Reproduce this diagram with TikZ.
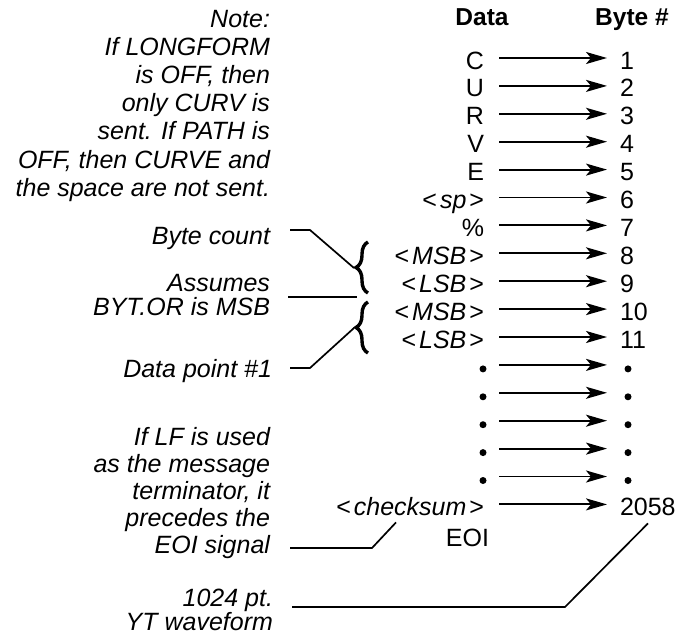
\documentclass[tikz,border=0pt]{standalone}
\usepackage{fontspec}
\setmainfont{Liberation Sans}
\usetikzlibrary{arrows.meta,decorations.pathreplacing}
\newcommand\ltsym{{\upshape<}\kern3pt}
\newcommand\gtsym{\kern3pt{\upshape>}}
\newcommand\topstrut{\rule{0pt}{20pt}}
\begin{document}
\begin{tikzpicture}[x=1pt,y=-1pt,
  every node/.style={inner sep=0pt, outer sep=0pt},
  txt/.style={font=\fontsize{25}{28}\selectfont},
  dat/.style={txt, anchor=base east},
  num/.style={txt, anchor=base west},
  hdr/.style={font=\fontsize{24.5}{28}\selectfont\bfseries, anchor=base},
  notes/.style={align=right, anchor=north east},
  note1/.style={font=\fontsize{25}{28}\selectfont\itshape, anchor=base east},
  arr/.style={line width=1.9pt, -{Stealth[length=21pt,width=12pt,inset=5pt]}},
  lead/.style={line width=1.7pt},
  brc/.style={decorate, decoration={brace, amplitude=12pt, aspect=0.5}, line width=3.4pt},
  dotn/.style={circle, fill, minimum size=7pt}
]
\useasboundingbox (0,0) rectangle (683,637);

% headers
\node[hdr] (hdata) at (482,25) {Data};
\node[hdr] (hbyte) at (632,25) {Byte \#};

% data column
\node[dat] (d1) at (484,69) {C};
\node[dat] (d2) at (484,96.9) {U};
\node[dat] (d3) at (484,124.8) {R};
\node[dat] (d4) at (484,152.7) {V};
\node[dat] (d5) at (484,180.6) {E};
\node[dat] (d6) at (484,208.5) {\ltsym\textit{sp}\gtsym};
\node[dat] (d7) at (484,236.4) {\%};
\node[dat] (d8) at (484,264.3) {\ltsym\textit{MSB}\gtsym};
\node[dat] (d9) at (484,292.2) {\ltsym\textit{LSB}\gtsym};
\node[dat] (d10) at (484,320.1) {\ltsym\textit{MSB}\gtsym};
\node[dat] (d11) at (484,348) {\ltsym\textit{LSB}\gtsym};
\node[dotn] (d12) at (483,368.9) {};
\node[dotn] (d13) at (483,396.8) {};
\node[dotn] (d14) at (483,424.7) {};
\node[dotn] (d15) at (483,452.6) {};
\node[dotn] (d16) at (483,480.5) {};
\node[dat] (d17) at (484,515.4) {\ltsym\textit{checksum}\gtsym};
\node[dat] (eoi) at (489,546) {EOI};

% byte numbers
\node[num] (b1) at (620,69) {1};
\node[num] (b2) at (620,96.9) {2};
\node[num] (b3) at (620,124.8) {3};
\node[num] (b4) at (620,152.7) {4};
\node[num] (b5) at (620,180.6) {5};
\node[num] (b6) at (620,208.5) {6};
\node[num] (b7) at (620,236.4) {7};
\node[num] (b8) at (620,264.3) {8};
\node[num] (b9) at (620,292.2) {9};
\node[num] (b10) at (620,320.1) {10};
\node[num] (b11) at (620,348) {11};
\node[dotn] (b12) at (628,368.9) {};
\node[dotn] (b13) at (628,396.8) {};
\node[dotn] (b14) at (628,424.7) {};
\node[dotn] (b15) at (628,452.6) {};
\node[dotn] (b16) at (628,480.5) {};
\node[num] (b17) at (620,515.4) {2058};

% arrows
\foreach \n in {1,...,11,17}
  \draw[arr] ([shift={(15,-11)}]d\n.base east) -- ([shift={(-13,-11)}]b\n.base west);
\foreach \n in {12,...,16}
  \draw[arr] ([shift={(16,-4)}]d\n.center) -- ([shift={(-21,-4)}]b\n.center);

% braces
\draw[brc] (368,293) -- (368,242);
\draw[brc] (368,353) -- (368,302);
\coordinate (tipA) at (354,268);
\coordinate (tipB) at (354,328);
\coordinate (gap) at (357,297);

% annotations
\node[notes, font=\fontsize{25}{28.2}\selectfont\itshape] (note) at (270,7)
  {\topstrut Note:\\ If LONGFORM\\ is OFF, then\\ only CURV is\\ sent. If PATH is\\ OFF, then CURVE and\\ the space are not sent.};
\node[note1] (bcount) at (270,244) {Byte count};
\node[notes, font=\fontsize{25}{24}\selectfont\itshape] (assumes) at (270,271)
  {\topstrut Assumes\\ BYT.OR is MSB};
\node[note1] (dpoint) at (272,377) {Data point \#1};
\node[notes, font=\fontsize{25}{27}\selectfont\itshape] (lf) at (270,425)
  {\topstrut If LF is used\\ as the message\\ terminator, it\\ precedes the\\ EOI signal};
\node[notes, font=\fontsize{25}{24}\selectfont\itshape] (wave) at (273,586)
  {\topstrut 1024 pt.\\ YT waveform};

% leader lines
\draw[lead] ([shift={(20,-14)}]bcount.base east) -- ++(20,0) -- (tipA);
\draw[lead] ([shift={(18,26)}]assumes.north east) -- (gap);
\draw[lead] ([shift={(18,-9)}]dpoint.base east) -- ++(20,0) -- (tipB);
\draw[lead] ([shift={(20,123)}]lf.north east) -- ++(82,0) -- ([shift={(-88,7)}]d17.base east);
\draw[lead] ([shift={(19,21)}]wave.north east) -- ++(273,0) -- ([shift={(28,8)}]b17.base west);
\end{tikzpicture}
\end{document}
